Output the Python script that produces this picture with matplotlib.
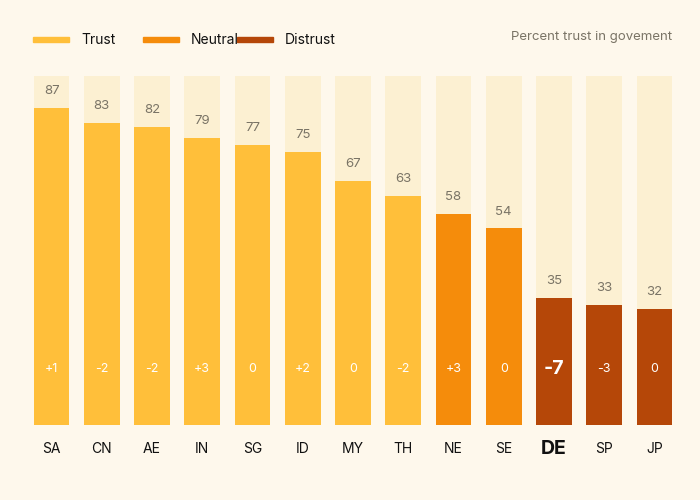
import matplotlib.pyplot as plt
from matplotlib.patches import Rectangle

plt.rcParams['font.family'] = ['Inter', 'DejaVu Sans']

countries = ['SA', 'CN', 'AE', 'IN', 'SG', 'ID', 'MY', 'TH', 'NE', 'SE', 'DE', 'SP', 'JP']
trust = [87, 83, 82, 79, 77, 75, 67, 63, 58, 54, 35, 33, 32]
change = ['+1', '-2', '-2', '+3', '0', '+2', '0', '-2', '+3', '0', '-7', '-3', '0']
group = ['Trust'] * 8 + ['Neutral'] * 2 + ['Distrust'] * 3

colors = {'Trust': '#FFBF3A', 'Neutral': '#F58C0B', 'Distrust': '#B54708'}
bg = '#FEF8EC'

fig = plt.figure(figsize=(7, 5), dpi=100, facecolor=bg)
ax = fig.add_axes([33 / 700, 75 / 500, 640 / 700, 353 / 500])
ax.set_facecolor(bg)

x = range(len(countries))
ax.bar(x, [96] * len(x), width=0.71, color='#FCF0D2', zorder=1)
ax.bar(x, trust, width=0.71, color=[colors[g] for g in group], zorder=2)

for i, (v, c) in enumerate(zip(trust, change)):
    ax.text(i, v + 3, str(v), ha='center', va='bottom', fontsize=9.5, color='#7a7466', zorder=3)
    big = countries[i] == 'DE'
    ax.text(i, 15.5, c, ha='center', va='center', color='white', zorder=3,
            fontsize=14 if big else 9, fontweight='bold' if big else 'normal')
    ax.text(i, -6.5, countries[i], ha='center', va='center', color='#111',
            fontsize=14 if big else 10, fontweight='bold' if big else 'normal')

ax.set_xlim(-0.37, len(countries) - 0.63)
ax.set_ylim(0, 97)
ax.axis('off')

# legend
lx = 33
for name in ['Trust', 'Neutral', 'Distrust']:
    fig.patches.append(Rectangle((lx / 700, 1 - 42 / 500), 36 / 700, 5 / 500,
                                 transform=fig.transFigure, color=colors[name]))
    fig.text((lx + 48) / 700, 1 - 40 / 500, name, fontsize=10, va='center', color='#111')
    lx += {'Trust': 110, 'Neutral': 94, 'Distrust': 0}[name]
fig.text(672 / 700, 1 - 37 / 500, 'Percent trust in govement', ha='right', va='center',
         fontsize=9.5, color='#7a7466')

fig.savefig('out.png', dpi=100, facecolor=bg)
